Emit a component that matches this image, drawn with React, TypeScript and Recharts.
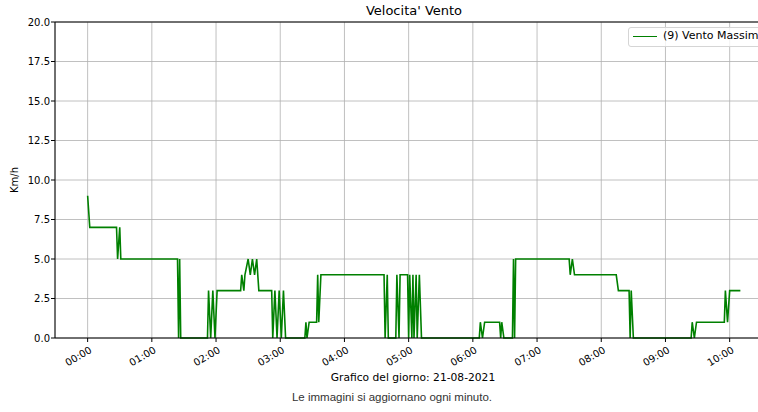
import { LineChart, Line, XAxis, YAxis, CartesianGrid, ReferenceLine } from "recharts";

// minuti dalla mezzanotte / velocità massima (km/h)
const MINUTES = [
  0, 2, 27, 28, 30, 31, 84, 85, 86, 87, 112, 113, 115, 117, 119, 121, 143, 144, 146, 147,
  150, 152, 154, 156, 158, 160, 172, 173, 175, 177, 179, 181, 183, 185, 203, 204, 205, 207,
  214, 215, 216, 218, 277, 278, 280, 281, 288, 289, 291, 292, 299, 300, 301, 303, 304, 305,
  307, 308, 310, 312, 366, 367, 369, 371, 385, 386, 387, 389, 397, 398, 399, 400, 450, 451,
  453, 455, 494, 496, 506, 507, 508, 510, 564, 565, 567, 569, 595, 596, 598, 600, 610,
];
const SPEED = [
  9, 7, 7, 5, 7, 5, 5, 0, 5, 0, 0, 3, 0, 3, 0, 3, 3, 4, 3, 4,
  5, 4, 5, 4, 5, 3, 3, 0, 3, 0, 3, 0, 3, 0, 0, 1, 0, 1,
  1, 4, 1, 4, 4, 0, 4, 0, 0, 4, 0, 4, 4, 0, 4, 0, 4, 0,
  4, 0, 4, 0, 0, 1, 0, 1, 1, 0, 1, 0, 0, 5, 0, 5, 5, 4,
  5, 4, 4, 3, 3, 0, 3, 0, 0, 1, 0, 1, 1, 3, 1, 3, 3,
];

const HOUR_TICKS = [0, 60, 120, 180, 240, 300, 360, 420, 480, 540, 600];
const HOUR_LABELS = ["00:00", "01:00", "02:00", "03:00", "04:00", "05:00", "06:00", "07:00", "08:00", "09:00", "10:00"];
const Y_TICKS = [0, 2.5, 5, 7.5, 10, 12.5, 15, 17.5, 20];

const data = MINUTES.map((t, i) => ({ t, v: SPEED[i] }));

const FONT = "'DejaVu Sans', sans-serif";

function HourTick(props: { x?: number; y?: number; payload?: { value: number; index: number } }) {
  const { x = 0, y = 0, payload } = props;
  const idx = HOUR_TICKS.indexOf(payload ? payload.value : -1);
  const ax = x + 5;
  const ay = y + 10;
  return (
    <text
      x={ax}
      y={ay}
      textAnchor="end"
      fontSize={10}
      fontFamily={FONT}
      fill="#000"
      transform={`rotate(-30, ${ax}, ${ay})`}
    >
      {HOUR_LABELS[idx] ?? ""}
    </text>
  );
}

export default function App() {
  return (
    <div
      style={{
        position: "absolute",
        left: 0,
        top: 0,
        width: 758,
        height: 412,
        overflow: "hidden",
        background: "#fff",
        fontFamily: FONT,
      }}
    >
      <LineChart width={800} height={412} data={data} margin={{ top: 22, right: 27, bottom: 0, left: 0 }}>
        <CartesianGrid stroke="#b0b0b0" strokeWidth={0.8} />
        <XAxis
          dataKey="t"
          type="number"
          domain={[-30.5, 640.5]}
          ticks={HOUR_TICKS}
          height={74}
          tickSize={4}
          tickMargin={0}
          axisLine={{ stroke: "#000", strokeWidth: 1 }}
          tickLine={{ stroke: "#000" }}
          tick={<HourTick />}
          interval={0}
        />
        <YAxis
          type="number"
          domain={[0, 20]}
          ticks={Y_TICKS}
          width={55}
          tickSize={4}
          tickMargin={1}
          axisLine={{ stroke: "#000", strokeWidth: 1 }}
          tickLine={{ stroke: "#000" }}
          tick={{ fontSize: 10, fill: "#000", fontFamily: FONT }}
          tickFormatter={(v: number) => v.toFixed(1)}
          interval={0}
        />
        <ReferenceLine y={20} stroke="#000" strokeWidth={1} />
        <Line
          type="linear"
          dataKey="v"
          stroke="#008000"
          strokeWidth={1.6}
          dot={false}
          isAnimationActive={false}
        />
      </LineChart>

      <div style={{ position: "absolute", left: 314, width: 200, top: 3, textAlign: "center", fontSize: 13, color: "#000" }}>
        Velocita' Vento
      </div>
      <div
        style={{
          position: "absolute",
          left: 14,
          top: 180,
          fontSize: 10,
          color: "#000",
          transform: "translate(-50%, -50%) rotate(-90deg)",
          whiteSpace: "nowrap",
        }}
      >
        Km/h
      </div>
      <div style={{ position: "absolute", left: 263, width: 300, top: 371, textAlign: "center", fontSize: 10.7, color: "#000" }}>
        Grafico del giorno: 21-08-2021
      </div>
      <div
        style={{
          position: "absolute",
          left: 242,
          width: 300,
          top: 391,
          textAlign: "center",
          fontSize: 11.5,
          color: "#333",
          fontFamily: "'Liberation Sans Narrow', 'Liberation Sans', sans-serif",
        }}
      >
        Le immagini si aggiornano ogni minuto.
      </div>

      <div
        style={{
          position: "absolute",
          left: 628,
          top: 27,
          width: 150,
          height: 18,
          border: "1px solid #d5d5d5",
          borderRadius: 3,
          background: "rgba(255,255,255,0.8)",
        }}
      >
        <div style={{ position: "absolute", left: 4, top: 8, width: 24, height: 0, borderTop: "1.5px solid #008000" }} />
        <div style={{ position: "absolute", left: 34, top: 1, fontSize: 11, color: "#000", whiteSpace: "nowrap" }}>
          (9) Vento Massimo
        </div>
      </div>
    </div>
  );
}
